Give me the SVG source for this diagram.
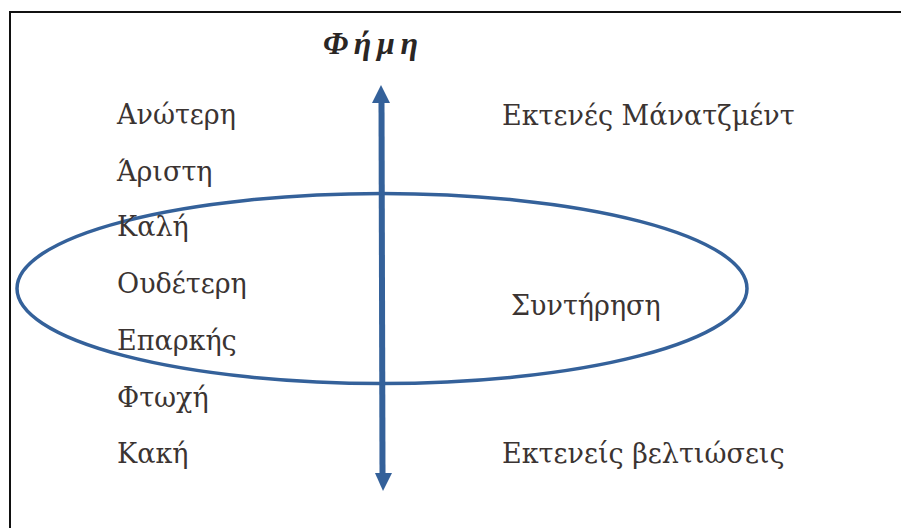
<svg xmlns="http://www.w3.org/2000/svg" width="901" height="528" viewBox="0 0 901 528">
<defs>
<style>
.t{font-family:"DejaVu Serif","Liberation Serif",serif;font-size:27px;fill:#3b3432}
.title{font-family:"Liberation Serif","DejaVu Serif",serif;font-size:32px;font-weight:bold;font-style:italic;fill:#2a2624}
.ax{stroke:#34619a;stroke-width:6;fill:none}
.head{fill:#34619a}
</style>
</defs>
<rect width="901" height="528" fill="#ffffff"/>
<path d="M10 528 V12 H901" fill="none" stroke="#111" stroke-width="2"/>
<text class="title" x="323" y="54" textLength="95" lengthAdjust="spacing">Φήμη</text>
<g id="connectors">
<line class="ax" x1="381.5" y1="100" x2="382.5" y2="476"/>
<polygon class="head" points="381,85 390,103 372,103"/>
<polygon class="head" points="383,491 392,473 375,473"/>
</g>
<g id="ellipse">
<ellipse cx="382" cy="288.5" rx="365" ry="95" fill="none" stroke="#34619a" stroke-width="3.5"/>
</g>
<g id="levels">
<text class="t" x="117" y="124">Ανώτερη</text>
<text class="t" x="117" y="181">Άριστη</text>
<text class="t" x="117" y="236">Καλή</text>
<text class="t" x="117" y="293">Ουδέτερη</text>
<text class="t" x="117" y="350">Επαρκής</text>
<text class="t" x="117" y="407">Φτωχή</text>
<text class="t" x="117" y="463">Κακή</text>
</g>
<g id="n-top"><text class="t" x="502" y="125">Εκτενές Μάνατζμέντ</text></g>
<g id="n-mid"><text class="t" x="511" y="315">Συντήρηση</text></g>
<g id="n-bottom"><text class="t" x="502" y="463">Εκτενείς βελτιώσεις</text></g>
</svg>
